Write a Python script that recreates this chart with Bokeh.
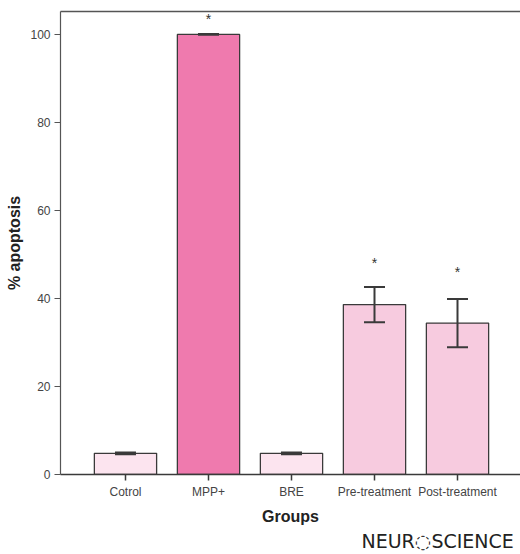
from bokeh.plotting import figure
from bokeh.models import (ColumnDataSource, Whisker, TeeHead, FixedTicker,
                          LinearAxis, Title, Range1d)
from bokeh.embed import file_html
from bokeh.resources import INLINE
from bokeh.core.properties import value

# ---- data ----
groups = ["Cotrol", "MPP+", "BRE", "Pre-treatment", "Post-treatment"]
apoptosis = [4.8, 100.0, 4.8, 38.6, 34.4]
errors = [0.2, 0.1, 0.2, 4.0, 5.5]
bar_colors = ["#FCE4EF", "#EF7AAE", "#FCE4EF", "#F7CBDF", "#F7CBDF"]
star_groups = [1, 3, 4]
star_levels = [103.6, 48.0, 45.9]
y_ticks = [0, 20, 40, 60, 80, 100]
logo_text = "NEUR\u25ccSCIENCE"

FONT = "Liberation Sans"
DARK = "#3a3a3a"

idx = list(range(len(groups)))
src = ColumnDataSource(dict(
    x=idx, top=apoptosis, color=bar_colors,
    upper=[v + e for v, e in zip(apoptosis, errors)],
    lower=[v - e for v, e in zip(apoptosis, errors)],
))
star_src = ColumnDataSource(dict(x=star_groups, y=star_levels,
                                 t=["*"] * len(star_groups)))

p = figure(width=520, height=554, output_backend="svg", toolbar_location=None,
           x_range=Range1d(-0.783, 4.759), y_range=Range1d(0, 105.2),
           min_border_left=60, min_border_right=0, min_border_top=11,
           min_border_bottom=80)
p.outline_line_color = None
p.xgrid.grid_line_color = None
p.ygrid.grid_line_color = None
p.background_fill_color = "white"
p.border_fill_color = "white"

p.vbar(x="x", top="top", bottom=0, width=0.75, source=src,
       fill_color="color", line_color=DARK, line_width=1.3)

w = Whisker(base="x", upper="upper", lower="lower", source=src,
            level="overlay", line_color=DARK, line_width=2,
            upper_head=TeeHead(size=21, line_color=DARK, line_width=2),
            lower_head=TeeHead(size=21, line_color=DARK, line_width=2))
p.add_layout(w)

p.text(x="x", y="y", text="t", source=star_src, text_align="center",
       text_baseline="middle", text_font=value(FONT), text_font_size="14px",
       text_color="#333333")

# axes
xa = p.xaxis[0]
xa.ticker = FixedTicker(ticks=idx)
xa.major_label_overrides = {i: g for i, g in enumerate(groups)}
xa.major_tick_out = 6
xa.major_tick_in = 0
xa.minor_tick_out = 0
xa.minor_tick_in = 0
xa.major_label_standoff = 4
xa.major_label_text_font = FONT
xa.major_label_text_font_size = "12px"
xa.major_label_text_color = "#444444"
xa.axis_line_color = DARK
xa.axis_line_width = 1.5
xa.major_tick_line_color = DARK
xa.major_tick_line_width = 1.5
xa.axis_label = "Groups"
xa.axis_label_text_font = FONT
xa.axis_label_text_font_style = "bold"
xa.axis_label_text_font_size = "16px"
xa.axis_label_text_color = "#222222"
xa.axis_label_standoff = 6

ya = p.yaxis[0]
ya.ticker = FixedTicker(ticks=y_ticks)
ya.major_tick_out = 6
ya.major_tick_in = 0
ya.minor_tick_out = 0
ya.minor_tick_in = 0
ya.major_label_standoff = 4
ya.major_label_text_font = FONT
ya.major_label_text_font_size = "12px"
ya.major_label_text_color = "#444444"
ya.axis_line_color = "#555555"
ya.axis_line_width = 1.2
ya.major_tick_line_color = "#555555"
ya.major_tick_line_width = 1.2
ya.axis_label = "% apoptosis"
ya.axis_label_text_font = FONT
ya.axis_label_text_font_style = "bold"
ya.axis_label_text_font_size = "16px"
ya.axis_label_text_color = "#222222"
ya.axis_label_standoff = 4

# top border only
top_axis = LinearAxis(ticker=FixedTicker(ticks=[]), major_tick_out=0,
                      major_tick_in=0, minor_tick_out=0, minor_tick_in=0,
                      major_label_text_font_size="0px", major_label_standoff=0,
                      axis_line_color="#555555", axis_line_width=1.5)
p.add_layout(top_axis, "above")

# watermark logo (as a bottom title so it is not clipped by the frame)
p.add_layout(Title(text=logo_text, align="left", offset=301, standoff=0,
                   text_font="DejaVu Sans", text_font_size="19px",
                   text_font_style="normal", text_color="#222222"), "below")

open("out.html", "w").write(file_html(p, INLINE))
